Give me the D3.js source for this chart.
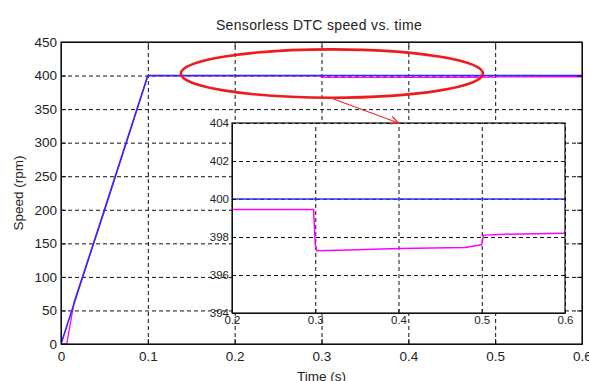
<!DOCTYPE html>
<html>
<head>
<meta charset="utf-8">
<script src="https://cdn.jsdelivr.net/npm/d3@7"></script>
<style>
  body { margin: 0; background: #fff; }
  svg { display: block; font-family: Arial, "Liberation Sans", sans-serif; }
  .grid line { stroke: #111; stroke-dasharray: 4,3; stroke-width: 1; }
  .grid path { display: none; }
  .axis path, .axis line { stroke: #111; }
  .axis text { fill: #222; }
</style>
</head>
<body>
<svg width="589" height="381"></svg>
<script>
// speed data
const refTime = [0, 0.1, 0.6];
const refSpeed = [0, 400, 400];

const actTime = [0, 0.0066, 0.0153, 0.05, 0.1, 0.2, 0.298, 0.3, 0.302, 0.34, 0.4, 0.48, 0.495, 0.5, 0.502, 0.53, 0.6];
const actSpeed = [0, 0, 64, 198, 399.5, 399.45, 399.45, 397.6, 397.28, 397.32, 397.4, 397.45, 397.55, 397.6, 398.1, 398.15, 398.2];

const xTicks = [0, 0.1, 0.2, 0.3, 0.4, 0.5, 0.6];
const yTicks = [0, 50, 100, 150, 200, 250, 300, 350, 400, 450];
const insetXTicks = [0.2, 0.3, 0.4, 0.5, 0.6];
const insetYTicks = [394, 396, 398, 400, 402, 404];

const ref = refTime.map((t, i) => ({ t, v: refSpeed[i] }));
const act = actTime.map((t, i) => ({ t, v: actSpeed[i] }));

const svg = d3.select('svg');

// main axes box
const m = { left: 61, top: 42, right: 582, bottom: 344 };
const x = d3.scaleLinear().domain([0, 0.6]).range([m.left, m.right]);
const y = d3.scaleLinear().domain([0, 450]).range([m.bottom, m.top]);

svg.append('defs').append('clipPath').attr('id', 'mainClip')
  .append('rect').attr('x', m.left).attr('y', m.top)
  .attr('width', m.right - m.left).attr('height', m.bottom - m.top);

// grid
svg.append('g').attr('class', 'grid')
  .attr('transform', `translate(0,${m.bottom})`)
  .call(d3.axisBottom(x).tickValues(xTicks).tickSize(-(m.bottom - m.top)).tickFormat(''));
svg.append('g').attr('class', 'grid')
  .attr('transform', `translate(${m.left},0)`)
  .call(d3.axisLeft(y).tickValues(yTicks).tickSize(-(m.right - m.left)).tickFormat(''));

const line = (sx, sy) => d3.line().x(d => sx(d.t)).y(d => sy(d.v));

const mainLines = svg.append('g').attr('clip-path', 'url(#mainClip)');
mainLines.append('path').datum(act)
  .attr('fill', 'none').attr('stroke', '#ff00ff').attr('stroke-width', 1.3)
  .attr('d', line(x, y));
mainLines.append('path').datum(ref)
  .attr('fill', 'none').attr('stroke', '#2a2aff').attr('stroke-width', 1.6)
  .attr('d', line(x, y));

// axes with inward ticks (matlab style)
svg.append('g').attr('class', 'axis')
  .attr('transform', `translate(0,${m.bottom})`)
  .style('font-size', '13.5px')
  .call(d3.axisBottom(x).tickValues(xTicks).tickSizeInner(-5).tickSizeOuter(0).tickPadding(7)
    .tickFormat(d => d === 0 ? '0' : d3.format('.1f')(d)));
svg.append('g').attr('class', 'axis')
  .attr('transform', `translate(${m.left},0)`)
  .style('font-size', '13.5px')
  .call(d3.axisLeft(y).tickValues(yTicks).tickSizeInner(-5).tickSizeOuter(0).tickPadding(4));
svg.append('g').attr('class', 'axis')
  .attr('transform', `translate(0,${m.top})`)
  .call(d3.axisTop(x).tickValues(xTicks).tickSizeInner(-5).tickSizeOuter(0).tickFormat(''));
svg.append('g').attr('class', 'axis')
  .attr('transform', `translate(${m.right},0)`)
  .call(d3.axisRight(y).tickValues(yTicks).tickSizeInner(-5).tickSizeOuter(0).tickFormat(''));

svg.append('rect')
  .attr('x', m.left).attr('y', m.top)
  .attr('width', m.right - m.left).attr('height', m.bottom - m.top)
  .attr('fill', 'none').attr('stroke', '#111').attr('stroke-width', 1.2);

// title and labels
svg.append('text')
  .attr('x', 319).attr('y', 30)
  .attr('text-anchor', 'middle').style('font-size', '14px').style('letter-spacing', '0.35px')
  .attr('fill', '#222')
  .text('Sensorless DTC speed vs. time');
svg.append('text')
  .attr('x', (m.left + m.right) / 2).attr('y', 381)
  .attr('text-anchor', 'middle').style('font-size', '13.5px').attr('fill', '#222')
  .text('Time (s)');
svg.append('text')
  .attr('transform', `translate(23,${(m.top + m.bottom) / 2}) rotate(-90)`)
  .attr('text-anchor', 'middle').style('font-size', '13.5px').attr('fill', '#222')
  .text('Speed (rpm)');

// zoom inset
const n = { left: 232, top: 123, right: 565, bottom: 313 };
const xi = d3.scaleLinear().domain([0.2, 0.6]).range([n.left, n.right]);
const yi = d3.scaleLinear().domain([394, 404]).range([n.bottom, n.top]);

svg.select('defs').append('clipPath').attr('id', 'insetClip')
  .append('rect').attr('x', n.left).attr('y', n.top)
  .attr('width', n.right - n.left).attr('height', n.bottom - n.top);

svg.append('rect')
  .attr('x', n.left).attr('y', n.top)
  .attr('width', n.right - n.left).attr('height', n.bottom - n.top)
  .attr('fill', '#fff');

svg.append('g').attr('class', 'grid')
  .attr('transform', `translate(0,${n.bottom})`)
  .call(d3.axisBottom(xi).tickValues(insetXTicks).tickSize(-(n.bottom - n.top)).tickFormat(''));
svg.append('g').attr('class', 'grid')
  .attr('transform', `translate(${n.left},0)`)
  .call(d3.axisLeft(yi).tickValues(insetYTicks).tickSize(-(n.right - n.left)).tickFormat(''));

const insetLines = svg.append('g').attr('clip-path', 'url(#insetClip)');
insetLines.append('path').datum(act)
  .attr('fill', 'none').attr('stroke', '#ff00ff').attr('stroke-width', 1.5)
  .attr('d', line(xi, yi));
insetLines.append('path').datum(ref)
  .attr('fill', 'none').attr('stroke', '#3535ff').attr('stroke-width', 1.5)
  .attr('d', line(xi, yi));

svg.append('g').attr('class', 'axis')
  .attr('transform', `translate(0,${n.bottom})`)
  .style('font-size', '11.5px')
  .call(d3.axisBottom(xi).tickValues(insetXTicks).tickSizeInner(-4).tickSizeOuter(0).tickPadding(3)
    .tickFormat(d3.format('.1f')));
svg.append('g').attr('class', 'axis')
  .attr('transform', `translate(${n.left},0)`)
  .style('font-size', '11.5px')
  .call(d3.axisLeft(yi).tickValues(insetYTicks).tickSizeInner(-4).tickSizeOuter(0).tickPadding(3));

svg.append('rect')
  .attr('x', n.left).attr('y', n.top)
  .attr('width', n.right - n.left).attr('height', n.bottom - n.top)
  .attr('fill', 'none').attr('stroke', '#111').attr('stroke-width', 1.2);

// red ellipse marking the zoomed region and arrow to the inset
svg.append('ellipse')
  .attr('cx', x(0.312)).attr('cy', y(403))
  .attr('rx', x(0.174) - x(0)).attr('ry', y(0) - y(36))
  .attr('fill', 'none').attr('stroke', '#ee1c1c').attr('stroke-width', 2.6);

const ax0 = x(0.31), ay0 = y(403) + (y(0) - y(36));
const ax1 = xi(0.4), ay1 = n.top;
svg.append('line')
  .attr('x1', ax0).attr('y1', ay0).attr('x2', ax1).attr('y2', ay1)
  .attr('stroke', '#ee2a2a').attr('stroke-width', 1.2);
const ang = Math.atan2(ay1 - ay0, ax1 - ax0);
const head = [-0.45, 0.45].map(a => [ax1 - 9 * Math.cos(ang + a), ay1 - 9 * Math.sin(ang + a)]);
svg.append('path')
  .attr('d', `M${head[0][0]},${head[0][1]} L${ax1},${ay1} L${head[1][0]},${head[1][1]}`)
  .attr('fill', 'none').attr('stroke', '#ee2a2a').attr('stroke-width', 1.2);
</script>
</body>
</html>
